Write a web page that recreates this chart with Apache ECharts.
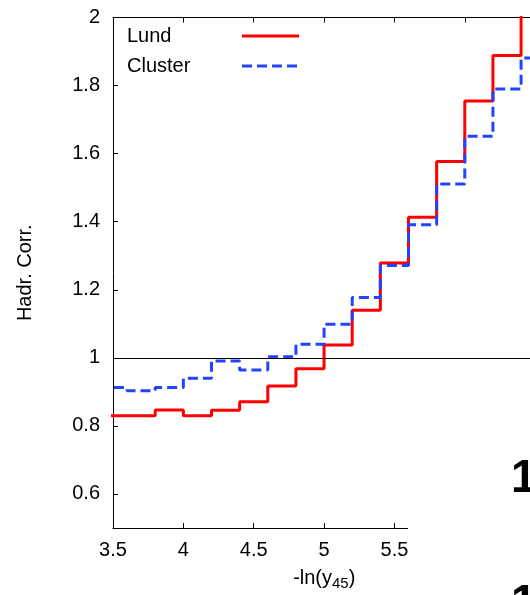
<!DOCTYPE html>
<html>
<head>
<meta charset="utf-8">
<script src="https://cdn.jsdelivr.net/npm/echarts@6/dist/echarts.min.js"></script>
<style>html,body{margin:0;padding:0;background:#fff}#c{width:530px;height:595px}</style>
</head>
<body>
<div id="c"></div>
<script>
// bin edges of the histogram (x = -ln(y45))
const binEdges = [3.4, 3.6, 3.8, 4.0, 4.2, 4.4, 4.6, 4.8, 5.0, 5.2, 5.4, 5.6, 5.8, 6.0, 6.2, 6.4, 6.6];
// hadronisation correction per bin
const lund    = [0.830, 0.830, 0.847, 0.830, 0.846, 0.871, 0.917, 0.968, 1.038, 1.140, 1.279, 1.413, 1.577, 1.755, 1.888, 2.100];
const cluster = [0.913, 0.903, 0.913, 0.940, 0.991, 0.964, 1.003, 1.040, 1.099, 1.177, 1.271, 1.391, 1.511, 1.651, 1.790, 1.881];
const yTicks = [0.6, 0.8, 1.0, 1.2, 1.4, 1.6, 1.8, 2.0];
const xTicks = [3.5, 4.0, 4.5, 5.0, 5.5, 6.0, 6.5];
const seriesNames = ['Lund', 'Cluster'];
const refLine = 1;

function stepData(vals) {
  return binEdges.map((e, i) => [e, vals[Math.min(i, vals.length - 1)]]);
}

const FONT = 'Liberation Sans';
const chart = echarts.init(document.getElementById('c'), null, {renderer: 'canvas'});
chart.setOption({
  animation: false,
  textStyle: {fontFamily: FONT},
  grid: {left: 113, top: 17.5, right: -75.5, bottom: 67, containLabel: false, outerBoundsMode: 'none'},
  legend: {
    left: 127, top: 26, orient: 'vertical', align: 'right', padding: 0,
    itemWidth: 57, itemHeight: 20, itemGap: 10,
    itemStyle: {opacity: 0},
    lineStyle: {width: 3},
    formatter: name => '{t|' + name + '}',
    textStyle: {fontSize: 20, color: '#000', fontFamily: FONT,
      rich: {t: {width: 110, align: 'left', fontSize: 20, lineHeight: 20, color: '#000', fontFamily: FONT}}},
    data: seriesNames
  },
  xAxis: [{
    type: 'value', min: 3.5, max: 7.0, interval: 0.5, position: 'bottom',
    name: '-ln(y{s|45})', nameLocation: 'middle', nameGap: 38,
    nameTextStyle: {fontSize: 20, color: '#000', padding: [0, 70, 0, 0], fontFamily: FONT,
      rich: {s: {fontSize: 15, verticalAlign: 'bottom', padding: [10, 0, 0, 0], fontFamily: FONT, color: '#000'}}},
    axisLine: {lineStyle: {color: '#000', width: 1}},
    axisTick: {inside: true, length: 5, lineStyle: {color: '#000'}, customValues: xTicks},
    axisLabel: {fontSize: 20, color: '#000', margin: 12, customValues: xTicks,
      formatter: v => String(+v.toFixed(1))},
    splitLine: {show: false}
  }, {
    type: 'value', min: 3.5, max: 7.0, interval: 0.5, position: 'top',
    axisLine: {lineStyle: {color: '#000', width: 1}},
    axisTick: {inside: true, length: 5, lineStyle: {color: '#000'}},
    axisLabel: {show: false},
    splitLine: {show: false}
  }],
  yAxis: {
    type: 'value', min: 0.5, max: 2.0,
    name: 'Hadr. Corr.', nameLocation: 'middle', nameRotate: 90, nameGap: 78,
    nameTextStyle: {fontSize: 20, color: '#000', fontFamily: FONT},
    axisLine: {show: true, lineStyle: {color: '#000', width: 1}},
    axisTick: {inside: true, length: 5, lineStyle: {color: '#000'}, customValues: yTicks},
    axisLabel: {fontSize: 20, color: '#000', margin: 13, customValues: yTicks,
      formatter: v => String(+v.toFixed(1))},
    splitLine: {show: false}
  },
  series: [{
    name: seriesNames[0], type: 'line', step: 'end', symbol: 'none', clip: true,
    data: stepData(lund),
    lineStyle: {color: '#ff0000', width: 3},
    itemStyle: {color: '#ff0000'},
    markLine: {
      silent: true, symbol: 'none', label: {show: false},
      lineStyle: {color: '#000', width: 1, type: 'solid'},
      data: [{yAxis: refLine}]
    }
  }, {
    name: seriesNames[1], type: 'line', step: 'end', symbol: 'none', clip: true,
    data: stepData(cluster),
    lineStyle: {color: '#2244ff', width: 3, type: [10, 5]},
    itemStyle: {color: '#2244ff'}
  }],
  graphic: [
    {type: 'rect', z: 100, left: 408, top: 362, shape: {width: 122, height: 233}, style: {fill: '#fff'}},
    {type: 'text', z: 101, left: 511, top: 456, style: {text: '1', font: 'bold 46px "Liberation Sans"', fill: '#000'}},
    {type: 'text', z: 101, left: 511, top: 581, style: {text: '1', font: 'bold 46px "Liberation Sans"', fill: '#000'}}
  ]
});
</script>
</body>
</html>
